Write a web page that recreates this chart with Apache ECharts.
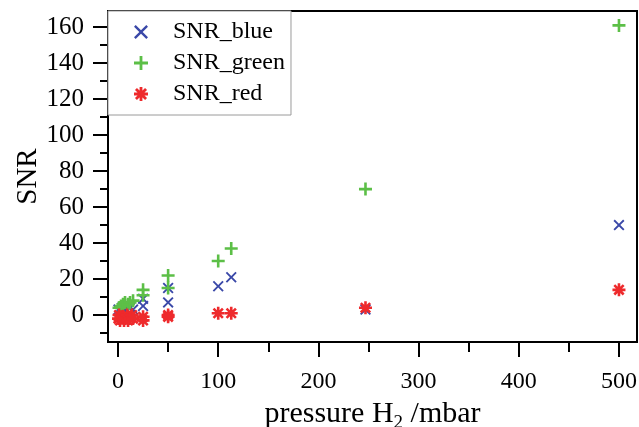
<!DOCTYPE html>
<html>
<head>
<meta charset="utf-8">
<script src="https://cdn.jsdelivr.net/npm/echarts@6/dist/echarts.min.js"></script>
<style>
  html, body { margin: 0; padding: 0; background: #fff; }
  #chart { width: 639px; height: 427px; }
</style>
</head>
<body>
<div id="chart"></div>
<script>
// data: [pressure H2 / mbar, SNR]
var snrBlue = [
  [0.5, 3], [2, 2], [4, 4], [5, 3], [7, 3], [10, 5], [12, 4], [15, 3],
  [25, 9], [25, 5], [50, 15], [50, 7], [100, 16], [113, 21], [247, 3], [500, 50]
];
var snrGreen = [
  [1, 4], [3, 5], [5, 6], [7, 7], [10, 6], [12, 7], [15, 8],
  [25, 14], [25, 11], [50, 22], [50, 15], [100, 30], [113, 37], [247, 70], [500, 161]
];
var snrRed = [
  [0.5, -2], [1, 0], [2, -3], [3, -1], [5, -1], [6, -3], [7, -2], [9, 0], [10, -3], [12, -2], [14, 0], [15, -2],
  [25, -1], [25, -3], [50, 0], [50, -1], [100, 1], [113, 1], [247, 4], [500, 14]
];
var yMajor = [0, 20, 40, 60, 80, 100, 120, 140, 160];
var yMinor = [-10, 10, 30, 50, 70, 90, 110, 130, 150];
var xMajor = [0, 100, 200, 300, 400, 500];
var xMinor = [50, 150, 250, 350, 450];

// marker shapes
var crossPath = 'path://M0,1.2L1.2,0L5,3.8L8.8,0L10,1.2L6.2,5L10,8.8L8.8,10L5,6.2L1.2,10L0,8.8L3.8,5Z';
var plusPath = 'path://M4,0H6V4H10V6H6V10H4V6H0V4H4Z';
var starPath = 'path://M4,0H6V4H10V6H6V10H4V6H0V4H4Z' +
  'M0.7,2.1L2.1,0.7L5,3.6L7.9,0.7L9.3,2.1L6.4,5L9.3,7.9L7.9,9.3L5,6.4L2.1,9.3L0.7,7.9L3.6,5Z';

var serif = 'Liberation Serif';
var XMIN = -10, XMAX = 518, YMIN = -15, YMAX = 169;

var chart = echarts.init(document.getElementById('chart'), null, { renderer: 'canvas' });

function xAxisDef(ticks, len, labels) {
  return {
    type: 'value', min: XMIN, max: XMAX, position: 'bottom',
    axisLine: { show: true, onZero: false, lineStyle: { color: '#000', width: 2 } },
    axisTick: { show: true, inside: false, length: len, customValues: ticks, lineStyle: { color: '#000', width: 2 } },
    axisLabel: { show: labels, customValues: xMajor, margin: 28, color: '#000', fontFamily: serif, fontSize: 24 },
    splitLine: { show: false },
    name: labels ? '{a|pressure H}{s|2}{a| /mbar}' : '',
    nameLocation: 'middle', nameGap: 57, nameMoveOverlap: false,
    nameTextStyle: {
      color: '#000',
      rich: {
        a: { fontFamily: serif, fontSize: 30, color: '#000' },
        s: { fontFamily: serif, fontSize: 19, color: '#000', verticalAlign: 'bottom', padding: [0, 0, -4, 0] }
      }
    }
  };
}

function yAxisDef(ticks, len, labels) {
  return {
    type: 'value', min: YMIN, max: YMAX, position: 'left',
    axisLine: { show: true, onZero: false, lineStyle: { color: '#000', width: 2 } },
    axisTick: { show: true, inside: false, length: len, customValues: ticks, lineStyle: { color: '#000', width: 2 } },
    axisLabel: { show: labels, customValues: yMajor, margin: 24, color: '#000', fontFamily: serif, fontSize: 25 },
    splitLine: { show: false },
    name: labels ? 'SNR' : '',
    nameLocation: 'middle', nameGap: 65, nameMoveOverlap: false,
    nameTextStyle: { color: '#000', fontFamily: serif, fontSize: 29 }
  };
}

chart.setOption({
  backgroundColor: '#fff',
  animation: false,
  grid: {
    left: 108, right: 2, top: 11, bottom: 85,
    containLabel: false, outerBoundsMode: 'none',
    show: true, borderColor: '#000', borderWidth: 2, backgroundColor: 'transparent'
  },
  xAxis: [xAxisDef(xMajor, 15, true), xAxisDef(xMinor, 10, false)],
  yAxis: [yAxisDef(yMajor, 15, true), yAxisDef(yMinor, 8, false)],
  legend: {
    orient: 'vertical', left: 108, top: 11,
    padding: [9, 6, 9, 26],
    itemGap: 7, itemWidth: 14, itemHeight: 14,
    backgroundColor: '#fff', borderColor: '#9a9a9a', borderWidth: 1,
    textStyle: { color: '#000', fontFamily: serif, fontSize: 24, padding: [0, 0, 0, 20] },
    data: ['SNR_blue', 'SNR_green', 'SNR_red']
  },
  series: [
    { name: 'SNR_blue', type: 'scatter', data: snrBlue, symbol: crossPath, symbolSize: 11,
      itemStyle: { color: '#3a48a8', opacity: 1 } },
    { name: 'SNR_green', type: 'scatter', data: snrGreen, symbol: plusPath, symbolSize: 13,
      itemStyle: { color: '#5cbf47', opacity: 1 } },
    { name: 'SNR_red', type: 'scatter', data: snrRed, symbol: starPath, symbolSize: 13,
      itemStyle: { color: '#ee2a2c', opacity: 1 } }
  ]
});
</script>
</body>
</html>
